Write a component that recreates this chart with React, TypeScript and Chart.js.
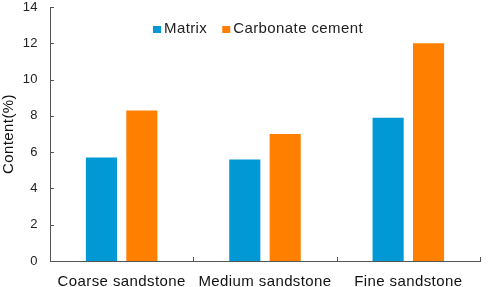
import React, { useEffect, useRef } from "react";
import { Chart, registerables } from "chart.js";

Chart.register(...registerables);

const categories = ["Coarse sandstone", "Medium sandstone", "Fine sandstone"];
const matrixValues = [5.7, 5.6, 7.9];
const carbonateValues = [8.3, 7.0, 12.0];
const seriesNames = ["Matrix", "Carbonate cement"];
const yTicks = [0, 2, 4, 6, 8, 10, 12, 14];

const BLUE = "#0099d6";
const ORANGE = "#ff7f00";
const AXIS = "#555555";
const FONT = "'Liberation Sans', Arial, sans-serif";

const spacingPlugin = {
  id: "spacing",
  beforeLayout(chart: any) { chart.ctx.letterSpacing = "0.4px"; },
  beforeDraw(chart: any) { chart.ctx.letterSpacing = "0.4px"; },
};

const decorPlugin = {
  id: "decor",
  afterDraw(chart: any) {
    const ctx = chart.ctx;
    const { left, top, bottom } = chart.chartArea;
    const x = chart.scales.x;
    const y = chart.scales.y;
    ctx.save();
    ctx.strokeStyle = AXIS;
    ctx.lineWidth = 1;
    yTicks.forEach((v) => {
      const py = Math.round(y.getPixelForValue(v)) + 0.5;
      ctx.beginPath();
      ctx.moveTo(left, py);
      ctx.lineTo(left + 4, py);
      ctx.stroke();
    });
    const n = categories.length;
    for (let i = 1; i <= n; i++) {
      const px = Math.round(x.getPixelForValue(i - 0.5)) + 0.5;
      ctx.beginPath();
      ctx.moveTo(px, bottom);
      ctx.lineTo(px, bottom - 4);
      ctx.stroke();
    }
    const colors = [BLUE, ORANGE];
    let lx = left + 103;
    const ly = top + 22;
    ctx.font = `15px ${FONT}`;
    ctx.letterSpacing = "0.4px";
    ctx.textBaseline = "middle";
    ctx.textAlign = "left";
    chart.data.datasets.forEach((ds: any, i: number) => {
      ctx.fillStyle = colors[i];
      ctx.fillRect(lx, ly - 3, 8, 7);
      ctx.fillStyle = "#222222";
      ctx.fillText(ds.label, lx + 11, ly);
      lx += 11 + ctx.measureText(ds.label).width + 15;
    });
    ctx.restore();
  },
};

export default function App() {
  const ref = useRef<HTMLCanvasElement>(null);
  useEffect(() => {
    document.body.style.margin = "0";
    const chart = new Chart(ref.current!, {
      type: "bar",
      data: {
        labels: categories,
        datasets: [
          { label: seriesNames[0], data: matrixValues, backgroundColor: BLUE },
          { label: seriesNames[1], data: carbonateValues, backgroundColor: ORANGE },
        ],
      },
      options: {
        animation: false,
        responsive: false,
        layout: { padding: { top: 7, right: 18, left: 0, bottom: 0 } },
        datasets: { bar: { categoryPercentage: 0.564, barPercentage: 0.77 } } as any,
        plugins: { legend: { display: false }, tooltip: { enabled: false } },
        scales: {
          x: {
            grid: { display: false, drawTicks: false },
            border: { display: true, color: AXIS, width: 1 },
            ticks: { color: "#111111", font: { family: FONT, size: 15 }, padding: 12, maxRotation: 0 },
            afterFit: (s: any) => { s.height = 26; s.paddingLeft = 0; s.paddingRight = 0; },
          },
          y: {
            min: 0,
            max: 14,
            afterBuildTicks: (s: any) => { s.ticks = yTicks.map((v) => ({ value: v })); },
            grid: { display: false, drawTicks: false },
            border: { display: true, color: AXIS, width: 1 },
            ticks: { color: "#222222", font: { family: FONT, size: 13 }, padding: 12 },
            title: {
              display: true,
              text: "Content(%)",
              color: "#111111",
              font: { family: FONT, size: 15 },
              padding: { top: 0, bottom: 0 },
            },
            afterFit: (s: any) => { s.width = 50; s.paddingTop = 0; s.paddingBottom = 0; },
          },
        },
      },
      plugins: [spacingPlugin, decorPlugin],
    });
    return () => chart.destroy();
  }, []);
  return (
    <div style={{ width: 498, height: 287, background: "#ffffff" }}>
      <canvas ref={ref} width={498} height={287} />
    </div>
  );
}
